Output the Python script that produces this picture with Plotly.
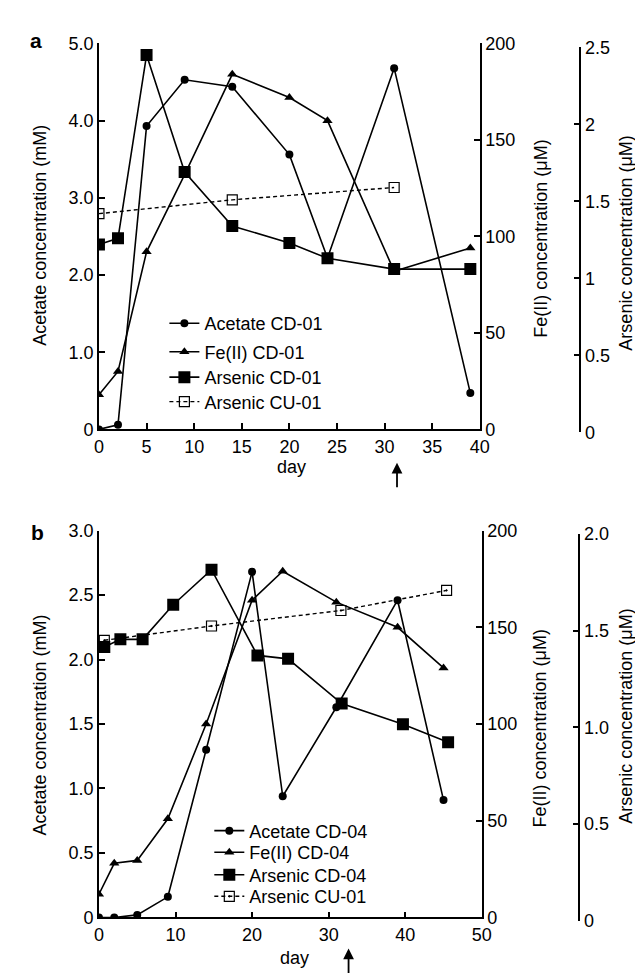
import plotly.graph_objects as go

W, H = 643, 975

# ---------------- Panel a data ----------------
days_a = [0, 2, 5, 9, 14, 20, 24, 31, 39]
acetate_a = [0, 0.06, 3.93, 4.53, 4.44, 3.56, 2.22, 4.68, 0.47]          # mM
fe_a = [18, 30, 92, 132, 184, 172, 160, 82, 94]                           # uM
arsenic_a = [1.22, 1.26, 2.45, 1.69, 1.34, 1.23, 1.13, 1.06, 1.06]        # uM
days_cu_a = [0, 14, 31]
arsenic_cu_a = [1.42, 1.51, 1.59]
arrow_day_a = 31.3

# ---------------- Panel b data ----------------
days_b = [0, 2, 5, 9, 14, 20, 24, 31, 39, 45]
acetate_b = [0, 0, 0.02, 0.16, 1.30, 2.68, 0.94, 1.63, 2.46, 0.91]
fe_b = [12, 28, 29.5, 51, 100, 164, 179, 163, 150, 129]
days_as_b = [0.7, 2.8, 5.7, 9.7, 14.7, 20.7, 24.7, 31.7, 39.7, 45.6]
arsenic_b = [1.415, 1.455, 1.455, 1.634, 1.815, 1.372, 1.354, 1.123, 1.016, 0.923]
days_cu_b = [0.7, 14.7, 31.6, 45.4]
arsenic_cu_b = [1.45, 1.524, 1.604, 1.708]
arrow_day_b = 32.6

# ---------------- Tick labels ----------------
xt_a = [0, 5, 10, 15, 20, 25, 30, 35, 40]
ace_tv_a = [0, 1, 2, 3, 4, 5]
ace_tt_a = ["0", "1.0", "2.0", "3.0", "4.0", "5.0"]
fe_tv = [0, 50, 100, 150, 200]
as_tv_a = [0, 0.5, 1, 1.5, 2, 2.5]
as_tt_a = ["0", "0.5", "1", "1.5", "2", "2.5"]

xt_b = [0, 10, 20, 30, 40, 50]
ace_tv_b = [0, 0.5, 1, 1.5, 2, 2.5, 3]
ace_tt_b = ["0", "0.5", "1.0", "1.5", "2.0", "2.5", "3.0"]
as_tv_b = [0, 0.5, 1, 1.5, 2]
as_tt_b = ["0", "0.5", "1.0", "1.5", "2.0"]

names_a = ["Acetate CD-01", "Fe(II) CD-01", "Arsenic CD-01", "Arsenic CU-01"]
names_b = ["Acetate CD-04", "Fe(II) CD-04", "Arsenic CD-04", "Arsenic CU-01"]

FONT = "Liberation Sans, Arial, Helvetica, sans-serif"
FS = 18
LW = 1.6


def px_x(p):
    return p / W


def px_y(p):
    return 1 - p / H


fig = go.Figure()


def add_panel(xa, ya_ace, ya_fe, ya_as, legs, d, ace, fe, d_as, ars, d_cu, cu, names, cu_sym):
    fig.add_trace(go.Scatter(x=d, y=ace, xaxis=xa, yaxis=ya_ace, name=names[0], mode="lines+markers",
                             line=dict(color="black", width=LW), legend=legs[0], showlegend=True,
                             marker=dict(symbol="circle", size=8, color="black")))
    fig.add_trace(go.Scatter(x=d, y=fe, xaxis=xa, yaxis=ya_fe, name=names[1], mode="lines+markers",
                             line=dict(color="black", width=LW), legend=legs[1], showlegend=True,
                             marker=dict(symbol="triangle-up", size=9, color="black")))
    fig.add_trace(go.Scatter(x=d_as, y=ars, xaxis=xa, yaxis=ya_as, name=names[2], mode="lines+markers",
                             line=dict(color="black", width=LW), legend=legs[2], showlegend=True,
                             marker=dict(symbol="square", size=12, color="black")))
    fig.add_trace(go.Scatter(x=d_cu, y=cu, xaxis=xa, yaxis=ya_as, name=names[3], mode="lines+markers",
                             line=dict(color="black", width=1.4, dash="4px,3px"), legend=legs[3],
                             showlegend=True,
                             marker=dict(symbol=cu_sym, size=10, color="black", line=dict(width=1.2))))


add_panel("x", "y", "y2", "y3", ["legend", "legend2", "legend3", "legend4"], days_a, acetate_a, fe_a,
          days_a, arsenic_a, days_cu_a, arsenic_cu_a, names_a, "square-open")
add_panel("x2", "y4", "y5", "y6", ["legend5", "legend6", "legend7", "legend8"], days_b, acetate_b, fe_b,
          days_as_b, arsenic_b, days_cu_b, arsenic_cu_b, names_b, "square-open-dot")

axis_common = dict(showline=True, linecolor="black", linewidth=1.8, ticks="inside", ticklen=6,
                   tickwidth=1.5, tickcolor="black", showgrid=False, zeroline=False,
                   tickfont=dict(family=FONT, size=FS, color="black"), fixedrange=True)

top_dom = [px_y(420), px_y(26)]
bot_dom = [px_y(918.3), px_y(523.3)]

layout = dict(
    showlegend=True,
    xaxis=dict(domain=[px_x(88), px_x(478)], anchor="y", range=[0, 40], tickvals=xt_a, **axis_common),
    yaxis=dict(domain=top_dom, anchor="x", range=[0, 5], tickvals=ace_tv_a, ticktext=ace_tt_a,
               **axis_common),
    yaxis2=dict(overlaying="y", side="right", anchor="x", range=[0, 200], tickvals=fe_tv, **axis_common),
    yaxis3=dict(domain=[px_y(423), px_y(30)], anchor="free", position=px_x(581), side="right",
                range=[0, 2.5], tickvals=as_tv_a, ticktext=as_tt_a, **axis_common),
    xaxis2=dict(domain=[px_x(88), px_x(480)], anchor="y4", range=[0, 50], tickvals=xt_b, **axis_common),
    yaxis4=dict(domain=bot_dom, anchor="x2", range=[0, 3], tickvals=ace_tv_b, ticktext=ace_tt_b,
                **axis_common),
    yaxis5=dict(overlaying="y4", side="right", anchor="x2", range=[0, 200], tickvals=fe_tv, **axis_common),
    yaxis6=dict(domain=[px_y(921.7), px_y(526.7)], anchor="free", position=px_x(580), side="right",
                range=[0, 2], tickvals=as_tv_b, ticktext=as_tt_b, **axis_common),
    width=W, height=H, margin=dict(l=0, r=0, t=0, b=0),
    paper_bgcolor="white", plot_bgcolor="rgba(0,0,0,0)",
    font=dict(family=FONT, size=FS, color="black"),
)

# one legend per entry so each row sits where the reference puts it
leg_rows = [("legend", 155, 312), ("legend2", 155, 341), ("legend3", 155, 367), ("legend4", 155, 392),
            ("legend5", 201, 830), ("legend6", 201, 852), ("legend7", 201, 875), ("legend8", 201, 897)]
for key, lx, ly in leg_rows:
    layout[key] = dict(x=px_x(lx), y=px_y(ly), xanchor="left", yanchor="middle", visible=True,
                       bgcolor="rgba(0,0,0,0)", borderwidth=0,
                       font=dict(family=FONT, size=FS, color="black"))

fig.update_layout(**layout)

anns = []


def rot_title(text, xp, yp):
    anns.append(dict(text=text, x=px_x(xp), y=px_y(yp), xref="paper", yref="paper", showarrow=False,
                     textangle=-90, xanchor="center", yanchor="middle",
                     font=dict(family=FONT, size=FS, color="black")))


rot_title("Acetate concentration (mM)", 28, 222)
rot_title("Fe(II) concentration (\u03bcM)", 541, 225)
rot_title("Arsenic concentration (\u03bcM)", 628, 230)
rot_title("Acetate concentration (mM)", 28, 722)
rot_title("Fe(II) concentration (\u03bcM)", 540, 725)
rot_title("Arsenic concentration (\u03bcM)", 628, 713)

for txt, xp, yp in [("day", 285, 458), ("day", 288, 960)]:
    anns.append(dict(text=txt, x=px_x(xp), y=px_y(yp), xref="paper", yref="paper", showarrow=False,
                     xanchor="center", yanchor="middle", font=dict(family=FONT, size=FS, color="black")))

for txt, xp, yp in [("a", 24, 23), ("b", 25, 525)]:
    anns.append(dict(text="<b>%s</b>" % txt, x=px_x(xp), y=px_y(yp), xref="paper", yref="paper",
                     showarrow=False, xanchor="center", yanchor="middle",
                     font=dict(family=FONT, size=21, color="black")))

# arrows marking a day on each panel
anns.append(dict(x=arrow_day_a, y=px_y(454), xref="x", yref="paper", text="", showarrow=True,
                 arrowhead=2, arrowsize=1.2, arrowwidth=1.8, arrowcolor="black", ax=0, ay=26))
anns.append(dict(x=arrow_day_b, y=px_y(950), xref="x2", yref="paper", text="", showarrow=True,
                 arrowhead=2, arrowsize=1.2, arrowwidth=1.8, arrowcolor="black", ax=0, ay=26))

fig.update_layout(annotations=anns)

fig.write_html("out.html")
